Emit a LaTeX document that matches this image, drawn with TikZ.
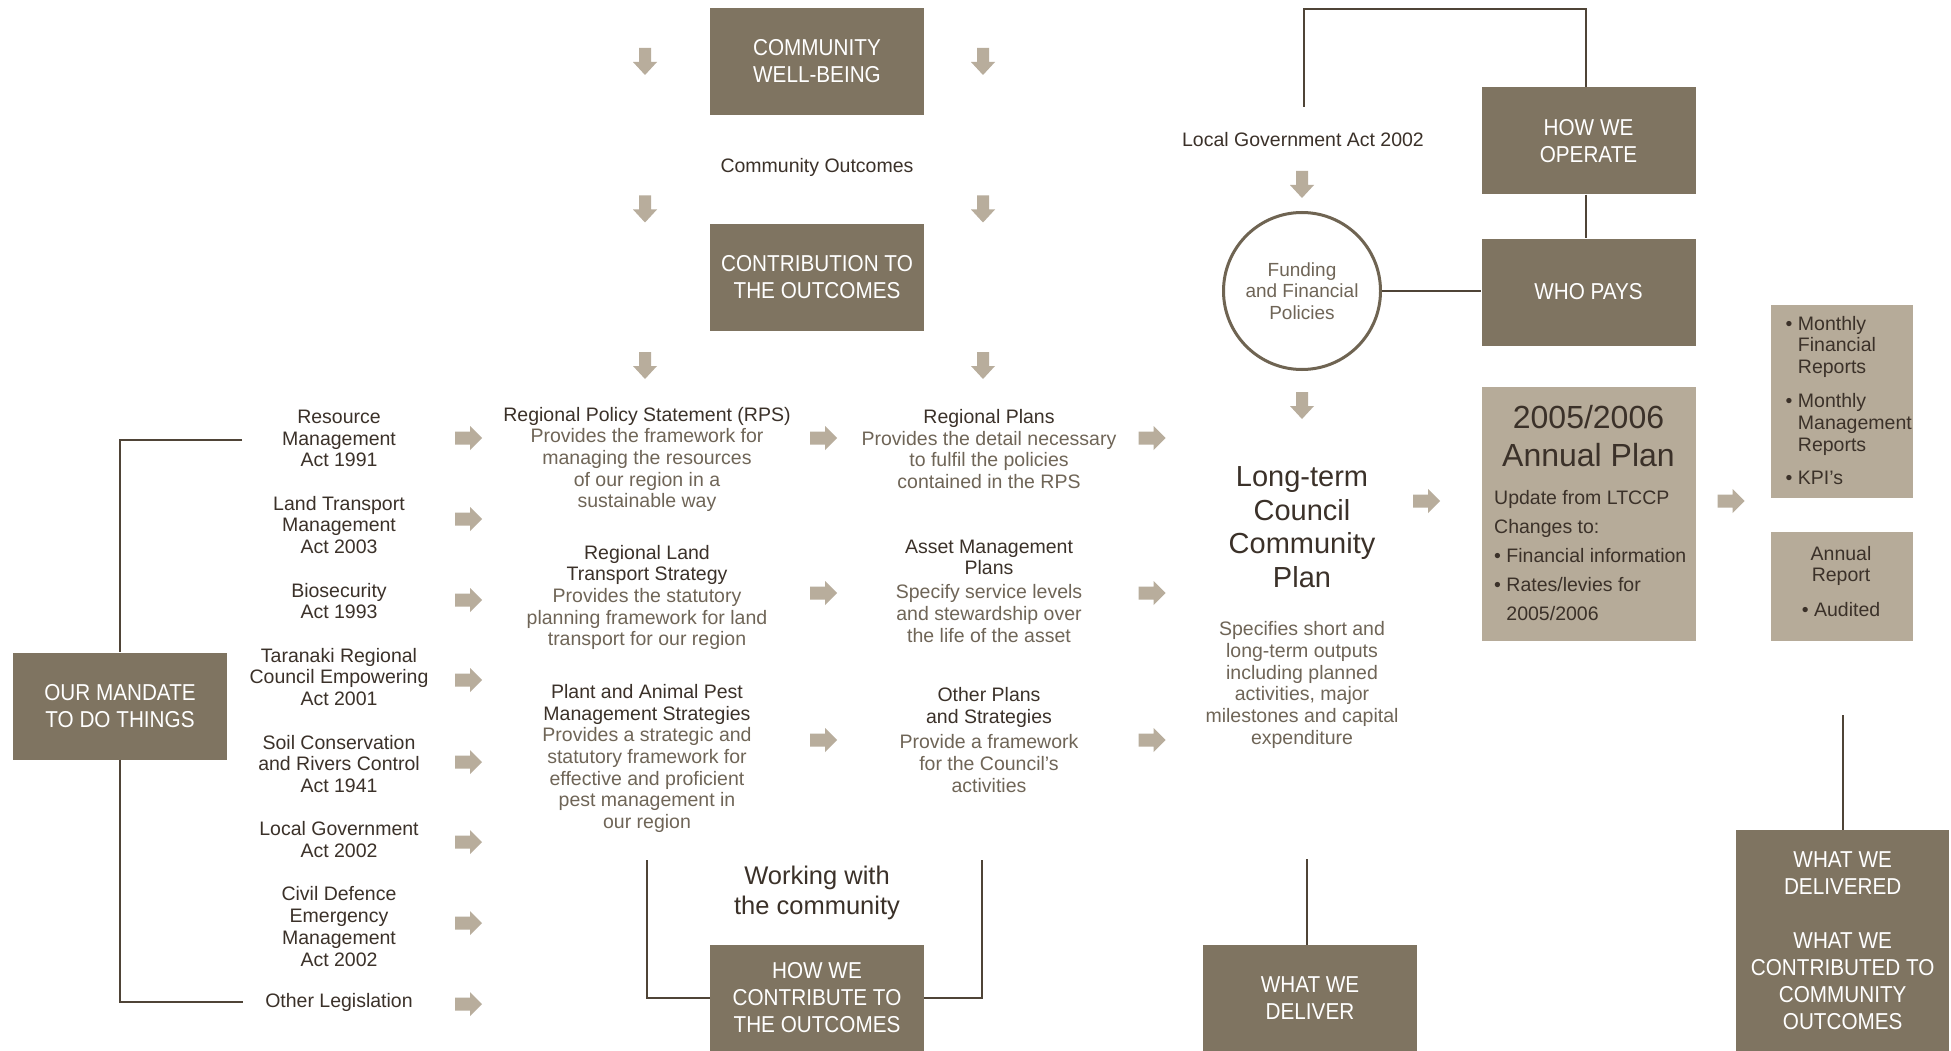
\documentclass[tikz,border=0pt]{standalone}
\usepackage{fontspec}
\setmainfont{Liberation Sans}
\newfontfamily\boxfam[FakeStretch=0.9]{Liberation Sans}
\definecolor{boxdark}{HTML}{7F7461}
\definecolor{boxlight}{HTML}{B6AB99}
\definecolor{arrowc}{HTML}{B8AD9C}
\definecolor{tdark}{HTML}{3B3129}
\definecolor{tgray}{HTML}{6F6557}
\definecolor{linec}{HTML}{4F4437}
\definecolor{circc}{HTML}{6F6452}
\newcommand\hdr[1]{\textcolor{tdark}{#1}}
\newcommand\bl{\phantom{• }}
\tikzset{
  darkbox/.style={fill=boxdark, text=white, align=center, inner sep=0pt,
    minimum width=214, minimum height=107, font=\boxfam\fontsize{23}{27}\selectfont},
  lightbox/.style={fill=boxlight, inner sep=0pt},
  txt/.style={text=tdark, align=center, inner sep=0pt, font=\fontsize{19.5}{21.7}\selectfont},
  desc/.style={txt, text=tgray},
  ln/.style={draw=linec, line width=2pt},
  rarrow/.pic={\fill[arrowc] (-13.5,-6.5) -- (1.5,-6.5) -- (1.5,-12) -- (13.5,0) -- (1.5,12) -- (1.5,6.5) -- (-13.5,6.5) -- cycle;},
  darrow/.pic={\fill[arrowc] (-6,-13.5) -- (-6,0.5) -- (-12,0.5) -- (0,13.5) -- (12,0.5) -- (6,0.5) -- (6,-13.5) -- cycle;}
}
\begin{document}
\begin{tikzpicture}[x=1pt,y=-1pt]
\useasboundingbox[fill=white] (0,0) rectangle (1951,1051);

% dark boxes
\node[darkbox] (cwb) at (817,61.5) {COMMUNITY\\WELL-BEING};
\node[darkbox] (cto) at (817,277.5) {CONTRIBUTION TO\\THE OUTCOMES};
\node[darkbox] (hwo) at (1588.5,141) {HOW WE\\OPERATE};
\node[darkbox] (wp) at (1588.5,292) {WHO PAYS};
\node[darkbox] (mand) at (120,706) {OUR MANDATE\\TO DO THINGS};
\node[darkbox] (hwc) at (817,998) {HOW WE\\CONTRIBUTE TO\\THE OUTCOMES};
\node[darkbox] (wwd) at (1310,998.5) {WHAT WE\\DELIVER};
\node[darkbox, minimum width=213.5, minimum height=221] (wwdd) at (1842.7,940.5) {WHAT WE\\DELIVERED\\[27pt]WHAT WE\\CONTRIBUTED TO\\COMMUNITY\\OUTCOMES};

% light boxes
\node[lightbox, minimum width=214, minimum height=254] (ap) at (1588.5,514) {};
\node[lightbox, minimum width=142, minimum height=192.5] (mr) at (1842.4,401.3) {};
\node[lightbox, minimum width=142, minimum height=109.3] (ar) at (1842.4,586.4) {};

% circle
\node[circle, draw=circc, line width=3pt, minimum size=157, text=tgray, align=center,
  inner sep=0pt, font=\fontsize{19}{21.7}\selectfont] (circ) at (1302,291) {Funding\\and Financial\\Policies};

% acts
\node[txt] (a1) at (339,438.5) {Resource\\Management\\Act 1991};
\node[txt] (a2) at (339,525) {Land Transport\\Management\\Act 2003};
\node[txt] (a3) at (339,601) {Biosecurity\\Act 1993};
\node[txt] (a4) at (339,677) {Taranaki Regional\\Council Empowering\\Act 2001};
\node[txt] (a5) at (339,764) {Soil Conservation\\and Rivers Control\\Act 1941};
\node[txt] (a6) at (339,839.5) {Local Government\\Act 2002};
\node[txt] (a7) at (339,926.5) {Civil Defence\\Emergency\\Management\\Act 2002};
\node[txt] (a8) at (339,1002) {Other Legislation};

% column 2
\node[desc] (rps) at (647,459.5) {\hdr{Regional Policy Statement (RPS)}\\Provides the framework for\\managing the resources\\of our region in a\\sustainable way};
\node[desc] (rlts) at (647,597.5) {\hdr{Regional Land}\\\hdr{Transport Strategy}\\Provides the statutory\\planning framework for land\\transport for our region};
\node[desc] (pap) at (647,758.5) {\hdr{Plant and Animal Pest}\\\hdr{Management Strategies}\\Provides a strategic and\\statutory framework for\\effective and proficient\\pest management in\\our region};

% column 3
\node[desc] (rp) at (989,449) {\hdr{Regional Plans}\\Provides the detail necessary\\to fulfil the policies\\contained in the RPS};
\node[desc] (amp) at (989,591) {\hdr{Asset Management}\\\hdr{Plans}\\[2pt]Specify service levels\\and stewardship over\\the life of the asset};
\node[desc] (ops) at (989,740) {\hdr{Other Plans}\\\hdr{and Strategies}\\[4pt]Provide a framework\\for the Council’s\\activities};

% other texts
\node[txt] (co) at (817,167) {Community Outcomes};
\node[txt] (lga) at (1303,140) {Local Government Act 2002};
\node[txt, font=\fontsize{29}{33.5}\selectfont] (ltccp) at (1302,527) {Long-term\\Council\\Community\\Plan};
\node[desc] (spec) at (1302,685) {Specifies short and\\long-term outputs\\including planned\\activities, major\\milestones and capital\\expenditure};
\node[txt, font=\fontsize{25.5}{30}\selectfont] (wwc) at (817,892.7) {Working with\\the community};

% annual plan contents
\node[txt, font=\fontsize{32}{38}\selectfont] (apt) at (1588.5,436) {2005/2006\\Annual Plan};
\node[txt, align=left, anchor=west, font=\fontsize{19.5}{29}\selectfont] (apb) at (1494,555.6) {Update from LTCCP\\Changes to:\\• Financial information\\• Rates/levies for\\\bl 2005/2006};
\node[txt, align=left, anchor=west, font=\fontsize{19.5}{21.8}\selectfont] (mrt) at (1785.5,400.5) {• Monthly\\\bl Financial\\\bl Reports\\[12pt]• Monthly\\\bl Management\\\bl Reports\\[12pt]• KPI’s};
\node[txt] (art) at (1841,581.5) {Annual\\Report\\[13pt]• Audited};

% connector lines
\coordinate (m1) at (242,440);
\coordinate (m2) at (243,1002);
\draw[ln] (m1) -| (mand.north);
\draw[ln] (mand.south) |- (m2);
\coordinate (w1) at (647,860);
\coordinate (w2) at (982,860);
\draw[ln] (w1) |- (hwc.west);
\draw[ln] (hwc.east) -| (w2);
\coordinate (t1) at (1304,107);
\coordinate (t2) at (1586,9);
\draw[ln] (t1) |- (t2) -- (t2 |- hwo.north);
\draw[ln] (t2 |- hwo.south) -- (t2 |- wp.north);
\draw[ln] (circ.east) -- (circ.east -| wp.west);
\coordinate (d1) at (1307,859);
\draw[ln] (d1) -- (d1 |- wwd.north);
\coordinate (d2) at (1843,715);
\draw[ln] (d2) -- (d2 |- wwdd.north);

% block arrows
\foreach \y in {438,519,600,680,762,842,923,1004} \pic at (468.5,\y) {rarrow};
\foreach \y in {438,593,740} { \pic at (823.5,\y) {rarrow}; \pic at (1152,\y) {rarrow}; }
\pic at (1426.5,501) {rarrow};
\pic at (1731,501) {rarrow};
\foreach \y in {61.5,209,365.5} { \pic at (645,\y) {darrow}; \pic at (983,\y) {darrow}; }
\pic at (1302,184.5) {darrow};
\pic at (1302,405.5) {darrow};
\end{tikzpicture}
\end{document}
